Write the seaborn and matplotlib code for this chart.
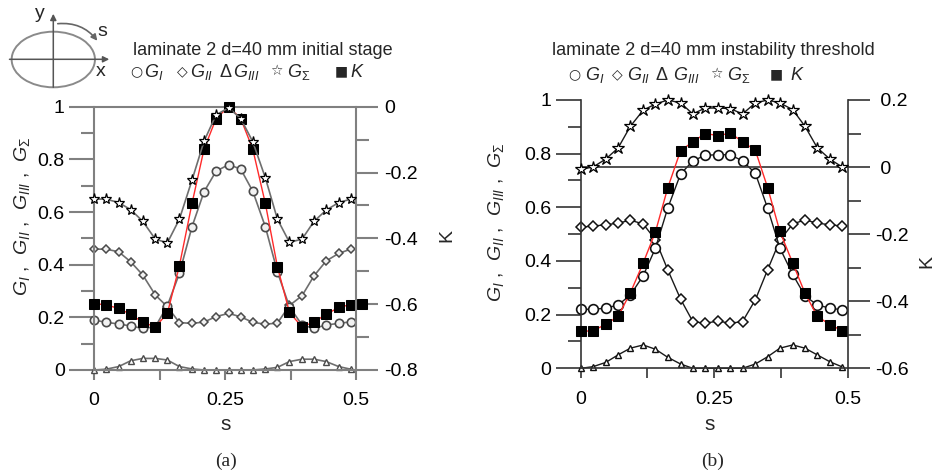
import matplotlib
matplotlib.use("Agg")
import matplotlib.pyplot as plt
import seaborn as sns
from matplotlib.patches import Ellipse, FancyArrowPatch
from matplotlib.ticker import FixedLocator, FuncFormatter

# arc-length coordinate along the contour
s = [0.0, 0.023, 0.047, 0.070, 0.093, 0.117, 0.140, 0.163, 0.187, 0.210, 0.233,
     0.257, 0.280, 0.303, 0.327, 0.350, 0.373, 0.397, 0.420, 0.443, 0.467, 0.490]
s_k_a = s + [0.512]

# (a) initial stage
a_GI = [0.190, 0.181, 0.175, 0.167, 0.158, 0.164, 0.244, 0.367, 0.544, 0.677, 0.755,
        0.780, 0.763, 0.679, 0.544, 0.373, 0.240, 0.171, 0.158, 0.171, 0.177, 0.183]
a_GII = [0.459, 0.459, 0.449, 0.411, 0.361, 0.285, 0.240, 0.180, 0.177, 0.182, 0.203,
         0.215, 0.202, 0.181, 0.174, 0.178, 0.245, 0.282, 0.358, 0.414, 0.443, 0.459]
a_GIII = [0.0, 0.003, 0.013, 0.035, 0.044, 0.044, 0.038, 0.013, 0.004, 0.0, 0.0,
          0.0, 0.0, 0.0, 0.004, 0.010, 0.032, 0.041, 0.041, 0.032, 0.013, 0.003]
a_GS = [0.649, 0.649, 0.636, 0.609, 0.565, 0.497, 0.483, 0.573, 0.721, 0.869, 0.969,
        0.996, 0.955, 0.867, 0.730, 0.573, 0.485, 0.497, 0.565, 0.607, 0.636, 0.649]
a_K = [-0.598, -0.602, -0.613, -0.631, -0.655, -0.669, -0.628, -0.483, -0.294, -0.129,
       -0.036, 0.0, -0.036, -0.129, -0.294, -0.486, -0.625, -0.669, -0.654, -0.631,
       -0.610, -0.601, -0.598]

# (b) instability threshold
b_GI = [0.220, 0.220, 0.224, 0.236, 0.273, 0.345, 0.448, 0.597, 0.724, 0.773, 0.794,
        0.796, 0.796, 0.773, 0.727, 0.597, 0.448, 0.350, 0.270, 0.236, 0.224, 0.218]
b_GII = [0.526, 0.530, 0.535, 0.541, 0.552, 0.538, 0.479, 0.367, 0.258, 0.174, 0.168,
         0.176, 0.168, 0.174, 0.255, 0.367, 0.477, 0.538, 0.553, 0.541, 0.535, 0.530]
b_GIII = [0.0, 0.006, 0.022, 0.050, 0.075, 0.087, 0.071, 0.041, 0.016, 0.0, 0.0,
          0.0, 0.0, 0.0, 0.016, 0.043, 0.075, 0.087, 0.075, 0.050, 0.024, 0.005]
b_GS = [0.742, 0.750, 0.780, 0.821, 0.902, 0.962, 0.985, 1.000, 0.989, 0.948, 0.970,
        0.970, 0.968, 0.948, 0.989, 1.000, 0.989, 0.964, 0.902, 0.822, 0.779, 0.750]
b_K = [-0.490, -0.488, -0.469, -0.445, -0.375, -0.286, -0.193, -0.062, 0.049, 0.075,
       0.100, 0.094, 0.101, 0.076, 0.050, -0.061, -0.192, -0.286, -0.376, -0.445,
       -0.470, -0.488]

x_major = [0, 0.25, 0.5]
x_minor = [0.125, 0.375]
g_major = [0, 0.2, 0.4, 0.6, 0.8, 1.0]
g_minor = [0.1, 0.3, 0.5, 0.7, 0.9]

key_symbols = ["○", "◇", "Δ", "☆", "■"]
key_labels = [r"$G_{I}$", r"$G_{II}$", r"$G_{III}$", r"$G_{\Sigma}$", r"$K$"]

sns.set_theme(style="ticks")
plt.rcParams["font.family"] = ["Liberation Sans", "DejaVu Sans"]
plt.rcParams["mathtext.fontset"] = "custom"
plt.rcParams["mathtext.rm"] = "Liberation Sans"
plt.rcParams["mathtext.it"] = "Liberation Sans:italic"
plt.rcParams["mathtext.bf"] = "Liberation Sans:bold"
plt.rcParams["axes.unicode_minus"] = False

W, H = 935, 475
fig = plt.figure(figsize=(W / 100, H / 100), dpi=100)


def fx(px):
    return px / W


def fy(py):
    return 1 - py / H


def fmt(v, pos):
    return f"{round(v, 3):g}"


def panel(box, s_g, gi, gii, giii, gsum, s_k, k, k_lim, k_major, k_minor, st):
    left, top, right, bottom = box
    rect = [fx(left), fy(bottom), fx(right) - fx(left), fy(top) - fy(bottom)]
    ax = fig.add_axes(rect)
    axk = ax.twinx()
    axs = fig.add_axes(rect, sharex=ax, sharey=ax)
    ax.set_zorder(1)
    axk.set_zorder(2)
    axs.set_zorder(3)
    axk.patch.set_visible(False)
    axs.patch.set_visible(False)
    axs.axis("off")

    line = dict(color=st["line"], linewidth=st["lw"], clip_on=False, legend=False)
    sns.lineplot(x=s_g, y=giii, ax=ax, marker="^", markersize=st["ms_tri"],
                 markerfacecolor="white", markeredgecolor=st["mec"],
                 markeredgewidth=1.0, **line)
    sns.lineplot(x=s_g, y=gii, ax=ax, marker="D", markersize=st["ms_dia"],
                 markerfacecolor=st["mfc"], markeredgecolor=st["mec"],
                 markeredgewidth=1.1, **line)
    sns.lineplot(x=s_g, y=gi, ax=ax, marker="o", markersize=st["ms_circ"],
                 markerfacecolor=st["mfc"], markeredgecolor=st["mec"],
                 markeredgewidth=1.2, **line)
    sns.lineplot(x=s_k, y=k, ax=axk, color="#ff2a2a", linewidth=1.0, marker="s",
                 markersize=st["ms_sq"], markerfacecolor="black",
                 markeredgecolor="black", clip_on=False, legend=False)
    sns.lineplot(x=s_g, y=gsum, ax=axs, marker="*", markersize=st["ms_star"],
                 markerfacecolor="white", markeredgecolor="black",
                 markeredgewidth=0.9, **line)

    axk.axhline(0, color=st["spine"], linewidth=st["sw"], clip_on=False, zorder=1)

    ax.set_xlim(0, 0.5)
    ax.set_ylim(0, 1)
    axk.set_ylim(*k_lim)
    for a in (ax, axk, axs):
        a.set_xlabel("")
        a.set_ylabel("")

    ax.xaxis.set_major_locator(FixedLocator(x_major))
    ax.xaxis.set_minor_locator(FixedLocator(x_minor))
    ax.yaxis.set_major_locator(FixedLocator(g_major))
    ax.yaxis.set_minor_locator(FixedLocator(g_minor))
    ax.xaxis.set_major_formatter(FuncFormatter(fmt))
    ax.yaxis.set_major_formatter(FuncFormatter(fmt))
    axk.yaxis.set_major_locator(FixedLocator(k_major))
    axk.yaxis.set_minor_locator(FixedLocator(k_minor))
    axk.yaxis.set_major_formatter(FuncFormatter(st["kfmt"]))

    for name in ("top", "right"):
        ax.spines[name].set_visible(False)
    for name in ("top", "left", "bottom"):
        axk.spines[name].set_visible(False)
    for sp in (ax.spines["left"], ax.spines["bottom"], axk.spines["right"]):
        sp.set_color(st["spine"])
        sp.set_linewidth(st["sw"])

    ax.tick_params(axis="x", which="both", direction="out", length=7,
                   width=st["sw"], color=st["spine"], pad=9, labelsize=14,
                   labelcolor="black")
    ax.tick_params(axis="y", which="major", direction="out", length=18,
                   width=st["sw"], color=st["spine"], pad=3, labelsize=14,
                   labelcolor="black")
    ax.tick_params(axis="y", which="minor", direction="out", length=9.5,
                   width=st["sw"], color=st["spine"])
    axk.tick_params(axis="y", which="major", direction="out", length=16,
                    width=st["sw"], color=st["spine"], pad=4, labelsize=14,
                    labelcolor="black")
    axk.tick_params(axis="y", which="minor", direction="out", length=9.5,
                    width=st["sw"], color=st["spine"])
    return ax, axk


def key_row(sym_right, lab_x, y_base):
    # symbol keys, each set just before its quantity name
    for sym, lab, xs, xl in zip(key_symbols, key_labels, sym_right, lab_x):
        if sym == "Δ":
            fig.text(fx(xs), fy(y_base), sym, ha="right", va="baseline",
                     fontsize=13, family="Liberation Sans")
        else:
            fig.text(fx(xs), fy(y_base - 5.5), sym, ha="right", va="center",
                     fontsize=10, family="DejaVu Sans")
        fig.text(fx(xl), fy(y_base), lab, ha="left", va="baseline", fontsize=13)


style_a = dict(line="#6e6e6e", lw=1.2, mec="#4a4a4a", mfc="#f2f2f2",
               spine="#808080", sw=1.5, ms_tri=4.5, ms_dia=4.5, ms_circ=6.0,
               ms_sq=6.8, ms_star=8.0, kfmt=fmt)
style_b = dict(line="#1a1a1a", lw=1.0, mec="#111111", mfc="white",
               spine="#333333", sw=1.2, ms_tri=5.0, ms_dia=5.0, ms_circ=7.0,
               ms_sq=7.2, ms_star=8.8,
               kfmt=lambda v, pos: fmt(v, pos) if v < 0 else " " + fmt(v, pos))

panel((94, 106.7, 356, 370), s, a_GI, a_GII, a_GIII, a_GS, s_k_a, a_K,
      (-0.8, 0.0), [-0.8, -0.6, -0.4, -0.2, 0.0], [-0.7, -0.5, -0.3, -0.1], style_a)
panel((580.7, 100, 847.7, 368.3), s, b_GI, b_GII, b_GIII, b_GS, s, b_K,
      (-0.6, 0.2), [-0.6, -0.4, -0.2, 0.0, 0.2], [-0.5, -0.3, -0.1, 0.1], style_b)

g_label = r"$G_{I}$ ,  $G_{II}$ ,  $G_{III}$ ,  $G_{\Sigma}$"
fig.text(fx(22), fy(216), g_label, rotation=90, ha="center", va="center", fontsize=14)
fig.text(fx(496), fy(222), g_label, rotation=90, ha="center", va="center", fontsize=14)
fig.text(fx(447), fy(235), "K", rotation=90, ha="center", va="center", fontsize=14)
fig.text(fx(927), fy(262), "K", rotation=90, ha="center", va="center", fontsize=14)
fig.text(fx(226), fy(425), "s", ha="center", va="center", fontsize=15)
fig.text(fx(710), fy(425), "s", ha="center", va="center", fontsize=15)
fig.text(fx(226), fy(461), "(a)", ha="center", va="center", fontsize=14,
         family="Liberation Serif")
fig.text(fx(713), fy(461), "(b)", ha="center", va="center", fontsize=14,
         family="Liberation Serif")

fig.text(fx(133), fy(55), "laminate 2 d=40 mm initial stage", ha="left",
         va="baseline", fontsize=13)
key_row([142, 188, 231, 283, 348], [144, 190, 233, 287, 350], 77)
fig.text(fx(552), fy(55), "laminate 2 d=40 mm instability threshold", ha="left",
         va="baseline", fontsize=13)
key_row([580, 623, 667, 723, 783], [585, 627, 673, 727, 790], 80)

# contour sketch with the coordinate axes and arc-length direction
deco = fig.add_axes([0, 0, 1, 1])
deco.set_xlim(0, W)
deco.set_ylim(H, 0)
deco.axis("off")
deco.patch.set_visible(False)
deco.add_patch(Ellipse((53.3, 59.5), 83.3, 55.6, fill=False, ec="#8a8a8a", lw=1.4))
deco.add_patch(FancyArrowPatch((6.7, 59.3), (112, 59.3), arrowstyle="-|>",
                               mutation_scale=9, color="#555555", lw=1.1))
deco.add_patch(FancyArrowPatch((53.3, 90), (53.3, 11), arrowstyle="-|>",
                               mutation_scale=9, color="#555555", lw=1.1))
deco.add_patch(FancyArrowPatch((55, 24), (99, 43), arrowstyle="-|>",
                               connectionstyle="arc3,rad=-0.3",
                               mutation_scale=9, color="#666666", lw=1.2))
deco.text(40, 13, "y", ha="center", va="center", fontsize=14)
deco.text(101, 71, "x", ha="center", va="center", fontsize=14)
deco.text(102, 31, "s", ha="center", va="center", fontsize=14)

fig.savefig("out.png", dpi=100)
